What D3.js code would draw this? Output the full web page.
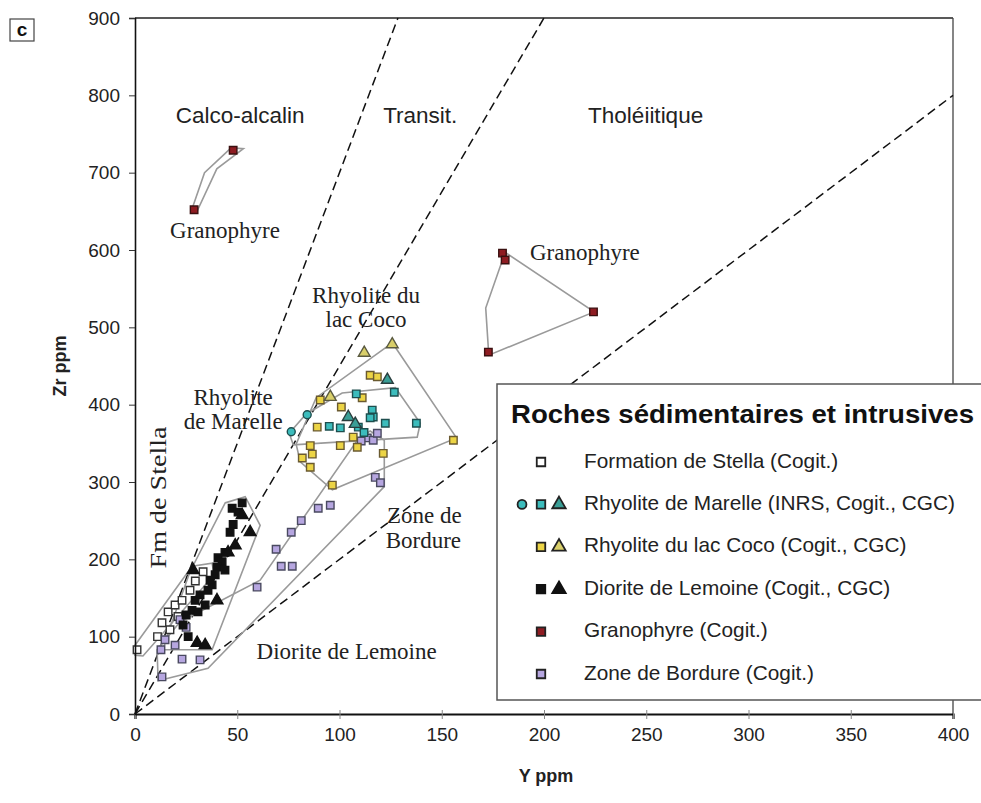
<!DOCTYPE html>
<html>
<head>
<meta charset="utf-8">
<script src="https://cdn.jsdelivr.net/npm/d3@7"></script>
<style>
  html, body { margin: 0; padding: 0; background: #fff; }
  svg { display: block; }
  .sans { font-family: "Liberation Sans", Arial, Helvetica, sans-serif; }
  .serif { font-family: "Liberation Serif", "Times New Roman", serif; }
</style>
</head>
<body>
<svg id="chart" width="981" height="803"></svg>
<script>
// Axis ticks
const xTicks = [0, 50, 100, 150, 200, 250, 300, 350, 400];
const yTicks = [0, 100, 200, 300, 400, 500, 600, 700, 800, 900];

// Discriminant lines through the origin: Zr = slope * Y
const divideSlopes = [7, 4.5, 2];

// Samples [Y ppm, Zr ppm]
const stellaCogit = [[1,83],[13.2,118],[16.2,132],[19.6,141],[23,147],[26.9,160],[33.3,184],[17.1,109],[29.5,172],[21,126],[11,100]];
const marelleINRS = [[76.4,365],[84.2,387]];
const marelleCogit = [[126.8,416],[108.2,414],[95,372],[100.4,370],[116,393],[116.5,384],[115,383],[109.2,371],[122.4,376],[137.6,376],[112,364]];
const marelleCGC = [[104.3,384],[123.4,432],[107.7,375]];
const cocoCogit = [[115,438],[118.5,436],[90.6,406],[111.1,409],[89.1,371],[106.7,358],[108.7,345],[85.7,347],[86.7,336],[100.4,347],[155.7,354],[121.4,337],[81.8,331],[85.7,319],[96.5,296],[100.9,397]];
const cocoCGC = [[125.8,478],[112.1,467],[95.5,410]];
const lemoineCogit = [[52.4,273],[47.5,266],[50.4,261],[46.5,235],[44,209],[40.6,202],[42.6,197],[40.1,190],[44,186],[37.7,167],[35.7,160],[31.8,154],[29.4,147],[34.3,141],[27.9,134],[25,128],[30.8,132],[36.7,173],[39.2,180],[23.5,115],[26,100],[48,245]];
const lemoineCGC = [[52.4,257],[56.3,235],[45.5,209],[28.4,186],[40.1,147],[30.4,92],[34.3,89],[49,218]];
const granophyreCogit = [[28.9,652],[48,729],[179.7,596],[181,587],[224.2,520],[172.8,468]];
const bordureCogit = [[113.6,357],[116.5,354],[118.5,363],[110.6,353],[117.5,306],[120,299],[95.5,270],[89.6,266],[81.3,250],[76.4,235],[69,213],[76.9,191],[71.5,191],[59.7,164],[25,112],[23,71],[31.8,70],[13.2,48],[12.7,83],[19.6,89],[14.7,96],[22,122]];

// Outlines of each group
const hullGranoUpper = [[27.5,650],[34,700],[47,732],[53,731],[40,705],[30.5,651]];
const hullGranoLower = [[181,597],[224.5,520],[173,464],[171.5,525]];
const hullCoco = [[125.8,480],[157.2,357],[96.5,290],[80.8,326],[78.8,349],[88.6,409]];
const hullMarelle = [[75.4,363],[83.7,388],[101.3,415],[127.3,422],[139.5,376],[138,358],[77.4,348]];
const hullBordure = [[11.3,43],[35.7,59],[121.9,294],[121.9,354],[115,366],[108.7,354],[61.2,173],[22,119],[10.8,83]];
const hullLemoine = [[44.1,273],[53.9,281],[61.2,244],[37.7,83],[13.7,83],[18.1,119],[26.9,184]];
const hullStella = [[0,89],[27.9,191],[37.7,195],[38.7,180],[3.9,75],[0,76]];

// Field and group names
const fieldLabels = [["Calco-alcalin", 51.4, 772], ["Transit.", 139.5, 772], ["Tholéiitique", 249.7, 772]];
const groupLabels = [
  ["Granophyre", 44, 622], ["Granophyre", 220, 594],
  ["Rhyolite du", 113, 538], ["lac Coco", 113, 507],
  ["Rhyolite", 48, 406], ["de Marelle", 48, 375],
  ["Zone de", 141.5, 254], ["Bordure", 141, 222],
  ["Diorite de Lemoine", 103.5, 78]
];
const stellaLabel = ["Fm de Stella", 12.4, 280];

const legendTitle = "Roches sédimentaires et intrusives";
const legendRows = [
  {label: "Formation de Stella (Cogit.)", marks: [["square", "#ffffff"]]},
  {label: "Rhyolite de Marelle (INRS, Cogit., CGC)", marks: [["circle", "#3cbcbc"], ["square", "#3cbcbc"], ["triangle", "#3a9e96"]]},
  {label: "Rhyolite du lac Coco (Cogit., CGC)", marks: [["square", "#ecd445"], ["triangle", "#d9cf6a"]]},
  {label: "Diorite de Lemoine (Cogit., CGC)", marks: [["square", "#111111"], ["triangle", "#111111"]]},
  {label: "Granophyre (Cogit.)", marks: [["square", "#8e1c22"]]},
  {label: "Zone de Bordure (Cogit.)", marks: [["square", "#b6a6e0"]]}
];

const svg = d3.select("#chart");
const x = d3.scaleLinear().domain([0, 400]).range([135, 953]);
const y = d3.scaleLinear().domain([0, 900]).range([714, 18]);

const symbolPath = {
  square: d3.symbol(d3.symbolSquare, 56)(),
  triangle: d3.symbol(d3.symbolTriangle, 60)(),
  circle: d3.symbol(d3.symbolCircle, 50)()
};
const legendSymbol = {
  square: d3.symbol(d3.symbolSquare, 72)(),
  triangle: d3.symbol(d3.symbolTriangle, 78)(),
  circle: d3.symbol(d3.symbolCircle, 62)()
};

// Frame
svg.append("line").attr("x1", x(0)).attr("x2", x(400)).attr("y1", y(900)).attr("y2", y(900))
  .attr("stroke", "#222").attr("stroke-width", 1.3);
svg.append("line").attr("x1", x(400)).attr("x2", x(400)).attr("y1", y(900)).attr("y2", y(0))
  .attr("stroke", "#444").attr("stroke-width", 1.3);

// Dashed dividing lines, clipped to the plot box
divideSlopes.forEach(s => {
  const yEnd = Math.min(900, s * 400);
  const xEnd = yEnd / s;
  svg.append("line")
    .attr("x1", x(0)).attr("y1", y(0)).attr("x2", x(xEnd)).attr("y2", y(yEnd))
    .attr("stroke", "#111").attr("stroke-width", 1.5).attr("stroke-dasharray", "9,5");
});

// Group outlines
const line = d3.line().x(d => x(d[0])).y(d => y(d[1])).curve(d3.curveLinearClosed);
[hullStella, hullLemoine, hullBordure, hullMarelle, hullCoco, hullGranoUpper, hullGranoLower].forEach(h => {
  svg.append("path").attr("d", line(h)).attr("fill", "none")
    .attr("stroke", "#9a9a9a").attr("stroke-width", 1.6);
});

// Sample markers
function drawMarks(data, shape, fill, stroke) {
  svg.append("g").selectAll("path").data(data).join("path")
    .attr("d", symbolPath[shape])
    .attr("transform", d => `translate(${x(d[0])},${y(d[1])})`)
    .attr("fill", fill).attr("stroke", stroke).attr("stroke-width", 1.4);
}
drawMarks(stellaCogit, "square", "#ffffff", "#333");
drawMarks(bordureCogit, "square", "#b6a6e0", "#4a4a60");
drawMarks(lemoineCogit, "square", "#111", "#111");
drawMarks(lemoineCGC, "triangle", "#111", "#111");
drawMarks(cocoCogit, "square", "#ecd445", "#6a5a30");
drawMarks(cocoCGC, "triangle", "#d9cf6a", "#5a5a40");
drawMarks(marelleCogit, "square", "#3cbcbc", "#1e4e4e");
drawMarks(marelleCGC, "triangle", "#3a9e96", "#2a3e3e");
drawMarks(marelleINRS, "circle", "#3cbcbc", "#1e4e4e");
drawMarks(granophyreCogit, "square", "#8e1c22", "#3a1010");

// Axes
const xAxis = svg.append("g").attr("transform", `translate(0,${y(0)})`)
  .call(d3.axisBottom(x).tickValues(xTicks).tickSize(5).tickFormat(d3.format("d")));
xAxis.select(".domain").attr("stroke", "#111").attr("stroke-width", 2.2);
xAxis.selectAll(".tick line").attr("stroke", "#888").attr("y1", -4);
xAxis.selectAll(".tick text").attr("class", "sans").attr("font-size", 19).attr("fill", "#222").attr("dy", "1.0em");

const yAxis = svg.append("g").attr("transform", `translate(${x(0)},0)`)
  .call(d3.axisLeft(y).tickValues(yTicks).tickSize(6).tickFormat(d3.format("d")));
yAxis.select(".domain").attr("stroke", "#111").attr("stroke-width", 1.6);
yAxis.selectAll(".tick line").attr("stroke", "#333");
yAxis.selectAll(".tick text").attr("class", "sans").attr("font-size", 19).attr("fill", "#222").attr("x", -15);
svg.selectAll(".tick text").attr("font-family", null);

svg.append("text").attr("class", "sans").attr("x", 546).attr("y", 782)
  .attr("text-anchor", "middle").attr("font-size", 18).attr("font-weight", "bold").attr("fill", "#222").text("Y ppm");
svg.append("text").attr("class", "sans").attr("transform", "translate(66,366) rotate(-90)")
  .attr("text-anchor", "middle").attr("font-size", 18).attr("font-weight", "bold").attr("fill", "#222").text("Zr ppm");

// Panel letter
svg.append("rect").attr("x", 10).attr("y", 19).attr("width", 24).attr("height", 22)
  .attr("fill", "#fff").attr("stroke", "#444").attr("stroke-width", 1.2);
svg.append("text").attr("class", "sans").attr("x", 22).attr("y", 36).attr("text-anchor", "middle")
  .attr("font-size", 19).attr("font-weight", "bold").attr("fill", "#111").text("c");

// Field names
svg.append("g").selectAll("text").data(fieldLabels).join("text")
  .attr("class", "sans").attr("x", d => x(d[1])).attr("y", d => y(d[2]))
  .attr("text-anchor", "middle").attr("dominant-baseline", "middle")
  .attr("font-size", 22.5).attr("fill", "#222").text(d => d[0]);

// Group names
svg.append("g").selectAll("text").data(groupLabels).join("text")
  .attr("class", "serif").attr("x", d => x(d[1])).attr("y", d => y(d[2]))
  .attr("text-anchor", "middle").attr("dominant-baseline", "middle")
  .attr("font-size", 23).attr("fill", "#222").text(d => d[0]);
svg.append("text").attr("class", "serif")
  .attr("transform", `translate(${x(stellaLabel[1])},${y(stellaLabel[2])}) rotate(-90)`)
  .attr("text-anchor", "middle").attr("dominant-baseline", "middle")
  .attr("font-size", 24).attr("fill", "#222")
  .attr("textLength", 142).attr("lengthAdjust", "spacingAndGlyphs").text(stellaLabel[0]);

// Legend
const lg = svg.append("g").attr("transform", "translate(497,384)");
lg.append("rect").attr("x", 0).attr("y", 0).attr("width", 520).attr("height", 316)
  .attr("fill", "#fff").attr("stroke", "#555").attr("stroke-width", 1.5);
lg.append("text").attr("class", "sans").attr("x", 14).attr("y", 39)
  .attr("font-size", 25).attr("font-weight", "bold").attr("fill", "#111")
  .attr("textLength", 463).attr("lengthAdjust", "spacingAndGlyphs").text(legendTitle);
const markX = {circle: 25, square: 44, triangle: 62};
legendRows.forEach((r, i) => {
  const cy = 78 + i * 42.4;
  r.marks.forEach(m => {
    const stroke = m[1] === "#111111" ? "#111" : "#222";
    lg.append("path").attr("d", legendSymbol[m[0]])
      .attr("transform", `translate(${markX[m[0]]},${cy})`)
      .attr("fill", m[1]).attr("stroke", stroke).attr("stroke-width", 1.8);
  });
  lg.append("text").attr("class", "sans").attr("x", 87).attr("y", cy)
    .attr("dominant-baseline", "middle").attr("font-size", 20.8).attr("fill", "#222").text(r.label);
});
</script>
</body>
</html>
